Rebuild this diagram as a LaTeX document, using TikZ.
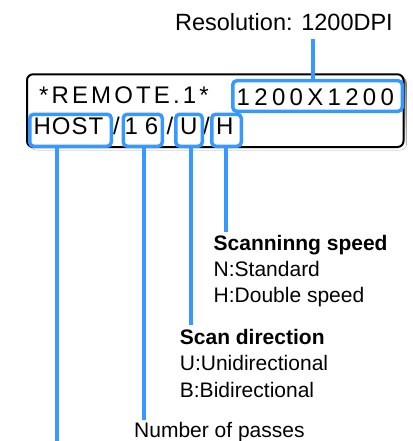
\documentclass[tikz,border=0pt]{standalone}
\usepackage{fontspec}
\setmainfont{Liberation Sans}
\newfontfamily\lcdfont{Liberation Sans}
\definecolor{hl}{RGB}{55,153,255}
\definecolor{shade}{RGB}{185,185,185}
\begin{document}
\begin{tikzpicture}[x=1pt,y=-1pt,
  hlbox/.style={draw=hl, line width=3.5pt, rounded corners=4pt, inner sep=0pt},
  hlline/.style={draw=hl, line width=4pt},
  lcd/.style={inner sep=0pt, font=\lcdfont\fontsize{24}{24}\selectfont},
  lbl/.style={inner sep=0pt, anchor=base west, font=\fontsize{21}{21}\selectfont},
  lblb/.style={inner sep=0pt, anchor=base west, font=\bfseries\fontsize{21}{21}\selectfont}
]
\useasboundingbox (0,0) rectangle (412,441);
% display panel
\fill[shade, rounded corners=6pt] (30,77) rectangle (406.5,150);
\node[draw, line width=2pt, fill=white, rounded corners=6pt, minimum width=376.5pt, minimum height=72.7pt, inner sep=0pt] (display) at (215.25,110.65) {};
% display texts
\node[lcd, anchor=base west] (remote) at (39,103) {\addfontfeature{LetterSpace=13}*REMOTE.1*};
\node[lcd, anchor=base west] (resval) at (236.5,106) {\addfontfeature{LetterSpace=18}1200X1200};
\node[lcd, anchor=base west] (host) at (33.5,134) {\addfontfeature{LetterSpace=4}HOST};
\node[lcd, anchor=base] (sl1) at (116.5,134) {/};
\node[lcd, anchor=base west] (passes) at (124.4,134) {\addfontfeature{LetterSpace=29}16};
\node[lcd, anchor=base] (sl2) at (170,134) {/};
\node[lcd, anchor=base west] (dir) at (180,134) {U};
\node[lcd, anchor=base] (sl3) at (206.5,134) {/};
\node[lcd, anchor=base west] (speed) at (216,134) {H};
% highlight boxes
\node[hlbox, minimum width=169.5pt, minimum height=30.5pt] (resbox) at (317.5,96) {};
\node[hlbox, minimum width=81.5pt, minimum height=32pt] (hostbox) at (70.5,130.25) {};
\node[hlbox, minimum width=39pt, minimum height=32pt] (passbox) at (142.75,130.25) {};
\node[hlbox, minimum width=26.5pt, minimum height=32pt] (dirbox) at (189,130.25) {};
\node[hlbox, minimum width=29.5pt, minimum height=32pt] (speedbox) at (226.5,130.25) {};
% labels
\node[anchor=base east, inner sep=0pt, font=\fontsize{23.5}{24}\selectfont] (restitle) at (393,30.7) {Resolution: 1200DPI};
\node[lblb] (speedtitle) at (213.5,250.7) {Scanninng speed};
\node[lbl] (speedN) at (213.5,276.5) {N:Standard};
\node[lbl] (speedH) at (213.5,302.7) {H:Double speed};
\node[lblb] (dirtitle) at (179.7,344) {Scan direction};
\node[lbl] (dirU) at (179.7,370.7) {U:Unidirectional};
\node[lbl] (dirB) at (179.7,397.3) {B:Bidirectional};
\node[lbl] (passtitle) at (134,437.5) {Number of passes};
% connectors
\coordinate (resTop) at (313,39);
\coordinate (hostEnd) at (57,441);
\coordinate (passEnd) at (144,420);
\coordinate (dirEnd) at (190.7,325);
\coordinate (speedEnd) at (225.7,232);
\draw[hlline] (resTop) -- (resTop |- resbox.north);
\draw[hlline] (hostEnd |- hostbox.south) -- (hostEnd);
\draw[hlline] (passEnd |- passbox.south) -- (passEnd);
\draw[hlline] (dirEnd |- dirbox.south) -- (dirEnd);
\draw[hlline] (speedEnd |- speedbox.south) -- (speedEnd);
\end{tikzpicture}
\end{document}
